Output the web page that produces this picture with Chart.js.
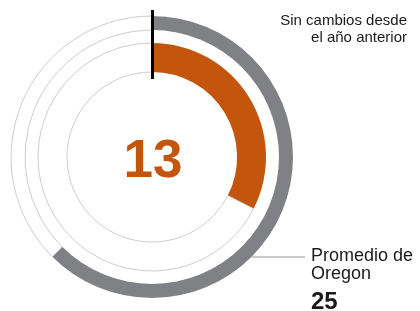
<!DOCTYPE html>
<html>
<head>
<meta charset="utf-8">
<script src="https://cdn.jsdelivr.net/npm/chart.js@4"></script>
<style>
  html, body { margin: 0; padding: 0; background: #fff; }
  .wrap { position: relative; width: 420px; height: 311px; font-family: 'Liberation Sans', Arial, sans-serif; }
  canvas { position: absolute; left: 0; top: 0; }
  .note { position: absolute; color: #1a1a1a; white-space: nowrap; }
  #change { right: 13px; top: 11px; font-size: 15px; line-height: 17px; text-align: right; }
  #avgLabel { left: 311px; top: 246px; font-size: 18px; line-height: 18px; }
  #avgValue { left: 311px; top: 289px; font-size: 24px; line-height: 24px; font-weight: bold; }
  #value { left: 92px; top: 132px; width: 122px; text-align: center; font-size: 53px; line-height: 53px; font-weight: bold; color: #c4550d; }
</style>
</head>
<body>
<div class="wrap">
  <canvas id="ringChart" width="420" height="311"></canvas>
  <div class="note" id="change">Sin cambios desde<br>el año anterior</div>
  <div class="note" id="avgLabel">Promedio de<br>Oregon</div>
  <div class="note" id="avgValue"></div>
  <div class="note" id="value"></div>
</div>
<script>
// values
const maxValue = 40;
const countyValue = 13;
const stateAverage = 25;
const ringLabels = ['valor', 'resto'];

const orange = '#c4550d';
const grey = '#808184';
const lineGrey = '#cccccc';

document.getElementById('value').textContent = countyValue;
document.getElementById('avgValue').textContent = stateAverage;

// black start marker + leader line to the average label
const markers = {
  id: 'markers',
  afterDatasetsDraw(chart) {
    const ctx = chart.ctx;
    const outer = chart.getDatasetMeta(0).data[0];
    const inner = chart.getDatasetMeta(2).data[0];
    const cx = outer.x, cy = outer.y;

    ctx.save();
    ctx.strokeStyle = '#000';
    ctx.lineWidth = 3;
    ctx.beginPath();
    ctx.moveTo(cx + 0.5, cy - outer.outerRadius - 6);
    ctx.lineTo(cx + 0.5, cy - inner.innerRadius + 7);
    ctx.stroke();

    // leader line at the label's first line
    const ly = 257;
    const dy = ly - cy;
    const r = outer.outerRadius;
    const x0 = cx + Math.sqrt(r * r - dy * dy);
    ctx.strokeStyle = '#b8b8b8';
    ctx.lineWidth = 1.5;
    ctx.beginPath();
    ctx.moveTo(x0, ly);
    ctx.lineTo(305, ly);
    ctx.stroke();
    ctx.restore();
  }
};

new Chart(document.getElementById('ringChart'), {
  type: 'doughnut',
  data: {
    labels: ringLabels,
    datasets: [
      {
        data: [stateAverage, maxValue - stateAverage],
        backgroundColor: [grey, '#ffffff'],
        borderColor: lineGrey,
        borderWidth: [0, 1],
        weight: 14
      },
      {
        data: [maxValue],
        backgroundColor: ['rgba(0,0,0,0)'],
        borderWidth: 0,
        weight: 13
      },
      {
        data: [countyValue, maxValue - countyValue],
        backgroundColor: [orange, '#ffffff'],
        borderColor: lineGrey,
        borderWidth: [0, 1],
        weight: 29
      }
    ]
  },
  options: {
    responsive: false,
    animation: false,
    radius: 141,
    cutout: '60.3%',
    layout: { padding: { left: 11, right: 127, top: 16, bottom: 13 } },
    plugins: {
      legend: { display: false },
      tooltip: { enabled: false }
    },
    events: []
  },
  plugins: [markers]
});
</script>
</body>
</html>
